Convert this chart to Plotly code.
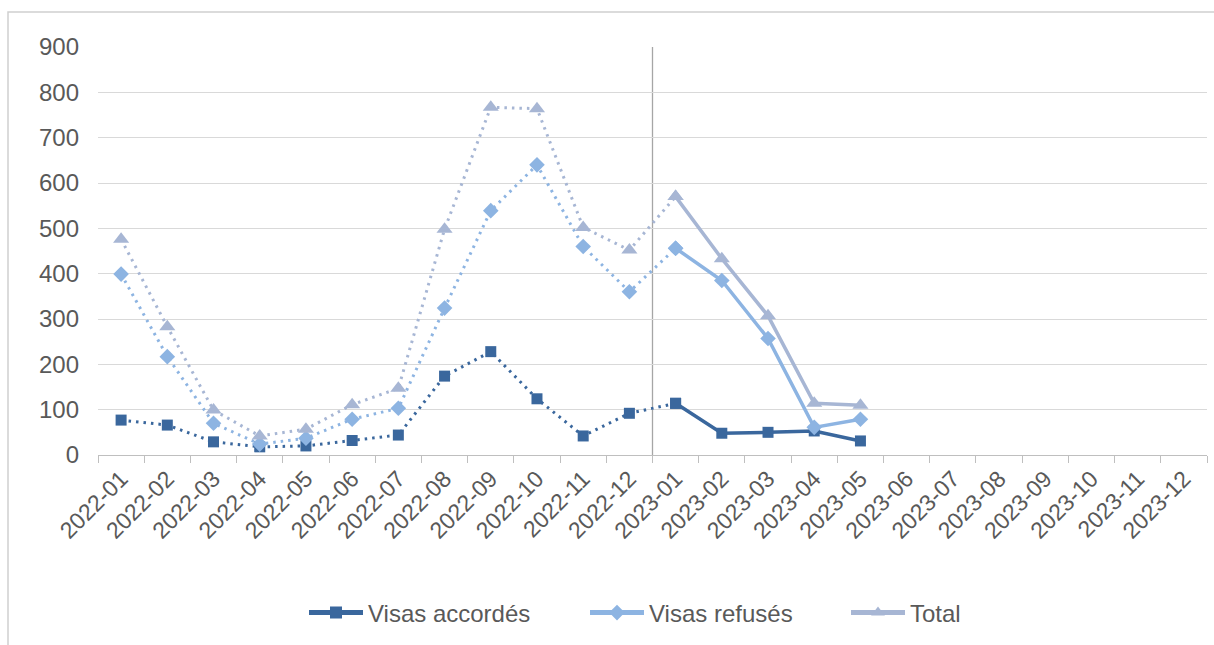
import plotly.graph_objects as go

months = ["2022-01", "2022-02", "2022-03", "2022-04", "2022-05", "2022-06",
          "2022-07", "2022-08", "2022-09", "2022-10", "2022-11", "2022-12",
          "2023-01", "2023-02", "2023-03", "2023-04", "2023-05", "2023-06",
          "2023-07", "2023-08", "2023-09", "2023-10", "2023-11", "2023-12"]

accordes = [77, 66, 29, 18, 20, 32, 44, 174, 228, 124, 42, 92, 114, 48, 50, 53, 31]
refuses = [399, 217, 70, 24, 37, 79, 103, 324, 539, 640, 460, 360, 456, 385, 257, 61, 79]
total = [476, 283, 99, 42, 57, 111, 147, 498, 767, 764, 502, 452, 570, 433, 307, 114, 110]

# plot area in pixels
L, R, T, B = 98, 1207, 47, 455
PW, PH = R - L, B - T


def px_x(p):
    return (p - L) / PW


def px_y(p):
    return (B - p) / PH


series = [
    ("Visas accordés", accordes, "#3A679D", "square", 11, "legend", 304),
    ("Visas refusés", refuses, "#8DB4E2", "diamond", 12, "legend2", 585),
    ("Total", total, "#A7B6D4", "triangle-up", 14, "legend3", 846),
]

split = 12  # index of 2023-01

fig = go.Figure()
for name, vals, color, symbol, msize, leg, _ in series:
    n = len(vals)
    fig.add_trace(go.Scatter(
        x=months[:split + 1], y=vals[:split + 1], mode="lines+markers",
        line=dict(color=color, width=3, dash="2.5px,5px"),
        marker=dict(symbol=symbol, size=msize, color=color),
        name=name, legendgroup=name, showlegend=False, legend=leg,
    ))
    fig.add_trace(go.Scatter(
        x=months[split:n], y=vals[split:n], mode="lines+markers",
        line=dict(color=color, width=3.5),
        marker=dict(symbol=symbol, size=msize, color=color),
        name=name, legendgroup=name, showlegend=True, legend=leg,
    ))

fig.add_shape(type="line", xref="x", yref="y", x0=11.5, x1=11.5, y0=0, y1=900,
              line=dict(color="#A6A6A6", width=1.3), layer="below")

# chart frame
fig.add_shape(type="rect", xref="paper", yref="paper",
              x0=px_x(8), x1=px_x(1225), y0=px_y(655), y1=px_y(12),
              line=dict(color="#D0D0D0", width=1.5), layer="below")

font_family = "Liberation Sans, Arial, sans-serif"
legend_common = dict(orientation="h", yanchor="middle", y=px_y(613),
                     xanchor="left", font=dict(size=24, color="#595959"),
                     itemwidth=54, bgcolor="rgba(0,0,0,0)", borderwidth=0,
                     itemsizing="constant")
layout_legends = {}
for name, vals, color, symbol, msize, leg, xpos in series:
    layout_legends[leg] = dict(legend_common, x=px_x(xpos))

fig.update_layout(
    width=1214, height=645,
    margin=dict(l=L, r=1214 - R, t=T, b=645 - B),
    paper_bgcolor="white", plot_bgcolor="white",
    font=dict(family=font_family, size=24, color="#595959"),
    showlegend=True,
    xaxis=dict(type="category", categoryorder="array", categoryarray=months,
               range=[-0.5, 23.5], tickson="boundaries", ticks="outside",
               ticklen=7, tickcolor="#BFBFBF", showline=True, linecolor="#BFBFBF",
               linewidth=1.3, showgrid=False, tickangle=-45,
               tickfont=dict(size=23, color="#595959")),
    yaxis=dict(range=[0, 900], dtick=100, showgrid=True, gridcolor="#D9D9D9",
               gridwidth=1.3, zeroline=False, showline=False, ticks="",
               ticklabelstandoff=18,
               tickfont=dict(size=24, color="#595959")),
    **layout_legends,
)

fig.write_html("out.html", config={"displayModeBar": False},
               post_script="document.body.style.margin='0px';")
